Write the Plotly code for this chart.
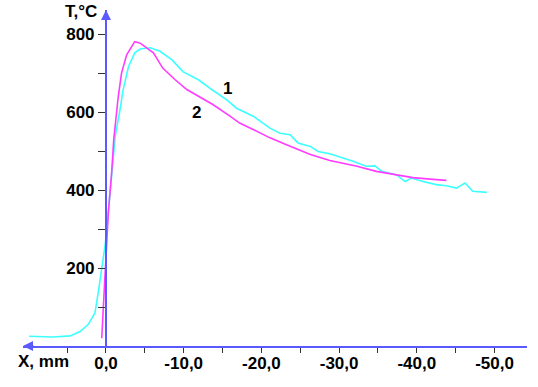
import plotly.graph_objects as go

# Curve 1 (cyan)
x1 = [9.9, 6.8, 4.6, 3.35, 2.3, 1.42, 1.0, 0.35, 0.13, -0.09, -0.3, -0.73, -1.2, -1.8, -2.2, -2.9,
      -3.7, -4.4, -5.7, -6.95, -8.5, -9.9, -11.9, -13.6, -15.5, -16.8, -19.0, -21.1, -22.4, -23.7,
      -24.7, -26.3, -27.3, -28.8, -30.1, -31.8, -33.5, -34.6, -35.5, -37.4, -38.5, -39.3, -40.8,
      -42.5, -43.8, -45.1, -46.2, -47.2, -49.0]
y1 = [25, 23, 26, 37, 55, 85, 137, 221, 256, 298, 342, 444, 540, 606, 657, 717,
      752, 762, 765, 756, 734, 704, 683, 658, 632, 610, 589, 559, 546, 542,
      521, 512, 499, 493, 485, 474, 461, 462, 448, 439, 422, 431, 422,
      414, 411, 405, 418, 397, 394]

# Curve 2 (magenta)
x2 = [0.55, 0.35, 0.17, -0.1, -0.3, -0.73, -1.0, -1.58, -2.0, -2.66, -3.7, -4.4, -5.2, -6.1,
      -7.3, -8.9, -10.4, -11.9, -13.8, -16.0, -17.2, -19.0, -21.1, -23.0, -26.3, -28.8, -32.3,
      -34.8, -37.4, -39.5, -41.7, -43.8]
y2 = [20, 93, 144, 255, 342, 445, 530, 640, 700, 747, 781, 777, 765, 752,
      713, 683, 658, 640, 619, 589, 572, 555, 534, 518, 491, 476, 461,
      448, 439, 432, 428, 425]

x_tickvals = [0, -10, -20, -30, -40, -50]
x_ticktext = ["0,0", "-10,0", "-20,0", "-30,0", "-40,0", "-50,0"]
x_minor = [5, -5, -15, -25, -35, -45]
y_tickvals = [200, 400, 600, 800]
y_ticktext = ["200", "400", "600", "800"]
y_minor = [100, 300, 500, 700]

AXIS = "#5a5aff"
FONT = "Liberation Sans, Arial, sans-serif"
W, H = 538, 387
ML, MT = 23, 10
PR, PB = 527, 346  # plot right / bottom in px
MR, MB = W - PR, H - PB
PW, PH = PR - ML, PB - MT
XR = [10.68, -54.18]
YR = [0, 862]
ypos = (0 - XR[0]) / (XR[1] - XR[0])
FS = 17

fig = go.Figure()
fig.add_trace(go.Scatter(x=x1, y=y1, mode="lines", line=dict(color="#3cffff", width=1.6),
                         showlegend=False, hoverinfo="skip"))
fig.add_trace(go.Scatter(x=x2, y=y2, mode="lines", line=dict(color="#ff3cff", width=1.6),
                         showlegend=False, hoverinfo="skip"))

bold = dict(family=FONT, size=FS, weight="bold", color="black")

fig.update_layout(
    width=W, height=H,
    margin=dict(l=ML, r=MR, t=MT, b=MB, pad=0),
    paper_bgcolor="white", plot_bgcolor="white",
    font=dict(family=FONT, size=FS, color="black"),
    xaxis=dict(
        range=XR, showgrid=False, zeroline=False,
        showline=True, linecolor=AXIS, linewidth=2,
        tickmode="array", tickvals=x_tickvals, ticktext=x_ticktext,
        ticks="outside", ticklen=5, tickwidth=1, tickcolor="#333",
        tickfont=bold, ticklabelstandoff=-4,
        minor=dict(tickmode="array", tickvals=x_minor, ticks="outside", ticklen=5,
                   tickwidth=1, tickcolor="#333", showgrid=False),
    ),
    yaxis=dict(
        range=YR, showgrid=False, zeroline=False,
        anchor="free", position=ypos,
        showline=True, linecolor=AXIS, linewidth=2,
        tickmode="array", tickvals=y_tickvals, ticktext=y_ticktext,
        ticks="outside", ticklen=7, tickwidth=1, tickcolor="#333",
        tickfont=bold,
        minor=dict(tickmode="array", tickvals=y_minor, ticks="outside", ticklen=7,
                   tickwidth=1, tickcolor="#333", showgrid=False),
    ),
)

ann = [
    dict(text="T,°C", xref="paper", yref="paper", x=(99 - ML) / PW, y=(PB - 12) / PH,
         xanchor="right", yanchor="middle", showarrow=False, font=bold),
    dict(text="X, mm", xref="paper", yref="paper", x=(16 - ML) / PW, y=-15 / PH,
         xanchor="left", yanchor="middle", showarrow=False, font=bold),
    dict(text="1", x=-15.7, y=660, xref="x", yref="y", showarrow=False, font=bold),
    dict(text="2", x=-11.7, y=598, xref="x", yref="y", showarrow=False, font=bold),
    # axis arrowheads
    dict(text="", xref="paper", yref="paper", x=ypos, y=1.0, ax=0, ay=12,
         showarrow=True, arrowhead=2, arrowsize=1, arrowwidth=2, arrowcolor=AXIS),
    dict(text="", xref="paper", yref="paper", x=0.0, y=0.0, ax=12, ay=0,
         showarrow=True, arrowhead=2, arrowsize=1, arrowwidth=2, arrowcolor=AXIS),
]
fig.update_layout(annotations=ann)

fig.write_html("out.html", config={"displayModeBar": False},
               post_script="document.body.style.margin='0';document.body.style.overflow='hidden';")
